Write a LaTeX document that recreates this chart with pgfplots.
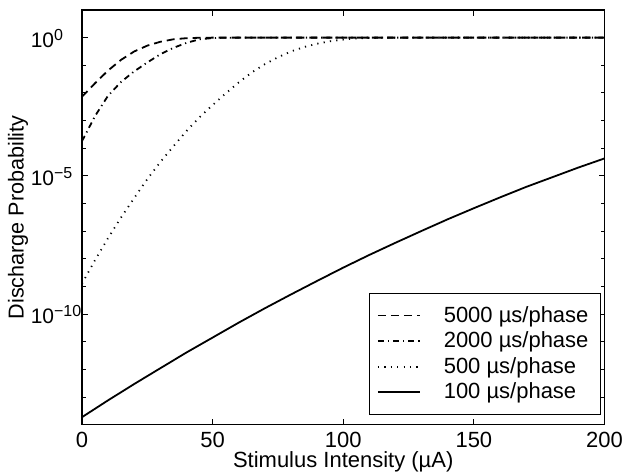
\documentclass[border=0pt]{standalone}
\usepackage{pgfplots}
\pgfplotsset{compat=1.18}
\usepackage{fontspec}
\setmainfont{Liberation Sans}

\newcommand{\dec}[1]{10\raisebox{3.4pt}{\fontsize{8}{10}\selectfont #1}}

\begin{document}
\begin{tikzpicture}
\begin{axis}[
    scale only axis,
    clip=false,
    width=261.5pt, height=207.5pt,
    xmin=0, xmax=200,
    ymode=log, ymin=1e-14, ymax=10,
    axis line style={line width=0.6pt},
    tick style={black, line width=0.5pt},
    major tick length=3pt, minor tick length=2pt,
    xtick={0,50,100,150,200},
    ytick={1e-10,1e-5,1},
    yticklabels={\dec{−10},\dec{−5},\dec{0}},
    minor ytick={1e-14,1e-13,1e-12,1e-11,1e-9,1e-8,1e-7,1e-6,1e-4,1e-3,1e-2,1e-1,10},
    /pgf/number format/assume math mode=true,
    xticklabel style={font=\fontsize{11}{13}\selectfont, inner xsep=0pt},
    yticklabel style={font=\fontsize{10.5}{12}\selectfont, anchor=base west, inner xsep=0pt, xshift=-25.8pt, yshift=-4.8pt},
    xlabel={Stimulus Intensity (µA)},
    ylabel={Discharge Probability},
    xlabel style={font=\fontsize{11}{13}\selectfont, inner sep=0pt, at={(axis description cs:0.5,-0.089)}, anchor=center},
    ylabel style={font=\fontsize{10.8}{13}\selectfont, inner sep=0pt, at={(axis description cs:-0.1225,0.5)}, anchor=center},
    legend style={at={(rel axis cs:0.9924,0.024)}, anchor=south east, draw=black, line width=0.5pt,
        font=\fontsize{11}{13}\selectfont, row sep=-0.7pt, column sep=9.5pt,
        inner xsep=3.8pt, inner ysep=4.3pt, cells={anchor=west}},
    legend image code/.code={\draw[#1] (0pt,0pt) -- (21pt,0pt);},
    legend cell align=left,
]

% 5000 us/phase
\addplot[black, line width=0.9pt, dash pattern=on 4pt off 2.5pt] coordinates {
(0,7.24e-3) (5,0.0224) (10,0.0646) (15,0.158) (20,0.316) (25,0.513) (30,0.708)
(35,0.871) (40,0.955) (45,0.989) (50,1) (200,1)
};
\addlegendentry{5000 µs/phase}

% 2000 us/phase
\addplot[black, line width=0.9pt, dash pattern=on 3pt off 2pt on 0.6pt off 2pt] coordinates {
(0,1.78e-4) (5,1.45e-3) (10,7.94e-3) (15,0.0251) (20,0.0603) (25,0.126) (30,0.251)
(35,0.427) (40,0.646) (45,0.871) (50,0.966) (55,0.993) (60,1) (200,1)
};
\addlegendentry{2000 µs/phase}

% 500 us/phase
\addplot[black, line width=0.9pt, dash pattern=on 0.6pt off 2.6pt] coordinates {
(0,1.26e-9) (5,8.91e-9) (10,5.62e-8) (15,3.16e-7) (20,1.58e-6) (25,7.59e-6)
(30,3.16e-5) (35,1.17e-4) (40,4.17e-4) (45,1.32e-3) (50,3.63e-3) (55,9.55e-3)
(60,0.0240) (65,0.0550) (70,0.110) (75,0.195) (80,0.316) (85,0.457) (90,0.603)
(95,0.741) (100,0.851) (105,0.933) (110,0.977) (120,0.998) (130,1) (200,1)
};
\addlegendentry{500 µs/phase}

% 100 us/phase
\addplot[black, line width=0.9pt] coordinates {
(0,1.86e-14) (10,7.59e-14) (20,2.95e-13) (30,1.10e-12) (40,4.07e-12) (50,1.41e-11)
(60,4.90e-11) (70,1.62e-10) (80,5.13e-10) (90,1.58e-9) (100,4.79e-9) (110,1.38e-8)
(120,3.80e-8) (130,1.02e-7) (140,2.69e-7) (150,6.76e-7) (160,1.66e-6) (170,3.98e-6)
(180,8.91e-6) (190,2.00e-5) (200,4.27e-5)
};
\addlegendentry{100 µs/phase}

\path (rel axis cs:-0.1568,-0.1229) rectangle (rel axis cs:1.0354,1.0241);
\end{axis}
\end{tikzpicture}
\end{document}
